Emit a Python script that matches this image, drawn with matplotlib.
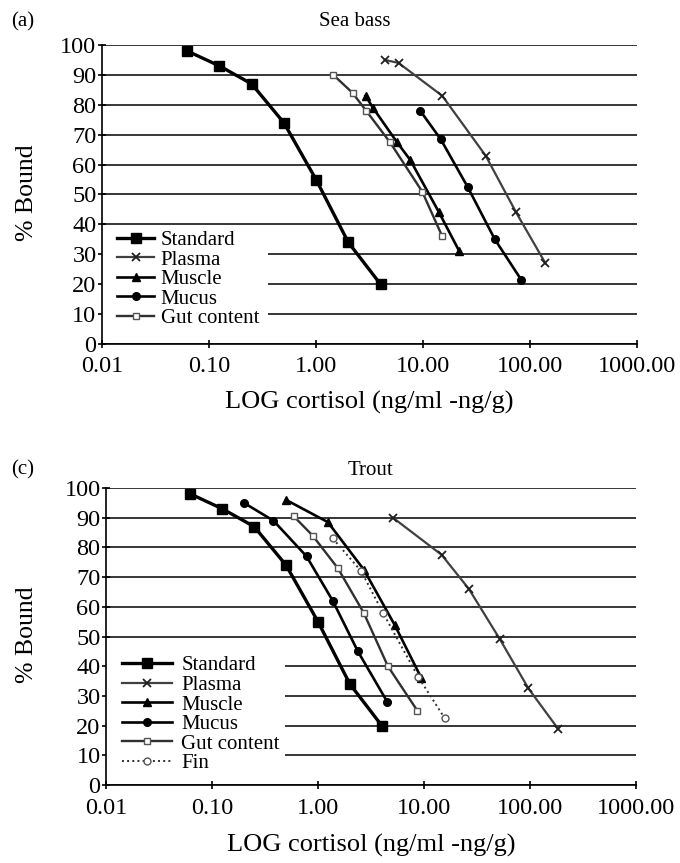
import numpy as np
import matplotlib.pyplot as plt
from matplotlib.patches import Rectangle
from matplotlib.ticker import FixedLocator, FuncFormatter

plt.rcParams['font.family'] = ['Liberation Serif', 'DejaVu Serif']

# Sea bass (a)
sb_std_x = [0.0625, 0.125, 0.25, 0.5, 1.0, 2.0, 4.0]
sb_std_y = [98, 93, 87, 74, 55, 34, 20]
sb_plasma_x = [4.4, 5.9, 15.1, 38.4, 74, 139]
sb_plasma_y = [95, 94, 83, 63, 44, 27]
sb_muscle_x = [2.9, 3.4, 5.7, 7.6, 14.1, 21.8]
sb_muscle_y = [83, 79, 67.5, 61.5, 44, 31]
sb_mucus_x = [9.4, 14.6, 26.1, 46.8, 82.5]
sb_mucus_y = [78, 68.5, 52.5, 35, 21.5]
sb_gut_x = [1.45, 2.19, 2.94, 4.9, 9.8, 15.1]
sb_gut_y = [90, 84, 78, 67.5, 51, 36]

# Trout (c)
tr_std_x = [0.0625, 0.125, 0.25, 0.5, 1.0, 2.0, 4.0]
tr_std_y = [98, 93, 87, 74, 55, 34, 20]
tr_plasma_x = [5.1, 14.7, 26.6, 52.3, 97, 184]
tr_plasma_y = [90, 77.5, 66, 49, 32.5, 19]
tr_muscle_x = [0.5, 1.24, 2.71, 5.28, 9.46]
tr_muscle_y = [96, 88.5, 72.5, 54, 36]
tr_mucus_x = [0.2, 0.38, 0.78, 1.38, 2.38, 4.51]
tr_mucus_y = [95, 89, 77, 62, 45, 28]
tr_gut_x = [0.59, 0.89, 1.54, 2.7, 4.57, 8.68]
tr_gut_y = [90.5, 84, 73, 58, 40, 25]
tr_fin_x = [1.38, 2.56, 4.1, 8.8, 15.7]
tr_fin_y = [83, 72, 58, 36.5, 22.5]

x_ticks = [0.01, 0.1, 1, 10, 100, 1000]
y_ticks = list(range(0, 101, 10))

styles = {
    'Standard': dict(color='black', lw=2.4, marker='s', ms=7.5, mfc='black', mec='black'),
    'Plasma': dict(color='#404040', lw=1.6, marker='x', ms=6, mew=1.3, mec='#202020'),
    'Muscle': dict(color='black', lw=1.9, marker='^', ms=6, mfc='black', mec='black'),
    'Mucus': dict(color='black', lw=1.9, marker='o', ms=5.5, mfc='black', mec='black'),
    'Gut content': dict(color='#303030', lw=1.7, marker='s', ms=5, mfc='white', mec='#555555', mew=1.0),
    'Fin': dict(color='#303030', lw=1.4, ls=':', marker='o', ms=5, mfc='white', mec='#555555', mew=1.0),
}


def style_axes(ax):
    ax.set_xscale('log')
    ax.set_xlim(0.01, 1000)
    ax.set_ylim(0, 100)
    ax.xaxis.set_major_locator(FixedLocator(x_ticks))
    ax.xaxis.set_minor_locator(FixedLocator([]))
    ax.xaxis.set_major_formatter(FuncFormatter(lambda v, p: '%.2f' % v))
    ax.set_yticks(y_ticks)
    ax.grid(axis='y', color='black', lw=1.1)
    ax.set_axisbelow(True)
    for s in ['top', 'right']:
        ax.spines[s].set_visible(False)
    ax.spines['left'].set_linewidth(1.2)
    ax.spines['bottom'].set_linewidth(1.2)
    ax.tick_params(direction='inout', length=6, width=1.2, labelsize=17.5)
    ax.tick_params(axis='y', pad=1)
    ax.tick_params(axis='x', pad=6)


def add_legend(ax, w, h, anchor, hlen, hpad):
    # white block hiding the gridlines behind the legend, as in the original
    ax.add_patch(Rectangle((0, 0.012), w, h, transform=ax.transAxes,
                           facecolor='white', edgecolor='none', zorder=1.5))
    ax.legend(loc='upper left', bbox_to_anchor=anchor, fontsize=15,
              frameon=False, labelspacing=0.0, handlelength=hlen,
              handletextpad=hpad, borderpad=0, borderaxespad=0)


fig = plt.figure(figsize=(6.8, 8.63), dpi=100)

ax1 = fig.add_axes([0.150, 1 - 344 / 863, 0.787, 299 / 863])
ax1.plot(sb_std_x, sb_std_y, label='Standard', **styles['Standard'])
ax1.plot(sb_plasma_x, sb_plasma_y, label='Plasma', **styles['Plasma'])
ax1.plot(sb_muscle_x, sb_muscle_y, label='Muscle', **styles['Muscle'])
ax1.plot(sb_mucus_x, sb_mucus_y, label='Mucus', **styles['Mucus'])
ax1.plot(sb_gut_x, sb_gut_y, label='Gut content', **styles['Gut content'])
style_axes(ax1)
add_legend(ax1, 0.31, 0.35, (0.028, 0.38), 1.8, 0.3)

ax2 = fig.add_axes([0.156, 1 - 785 / 863, 0.779, 297 / 863])
ax2.plot(tr_std_x, tr_std_y, label='Standard', **styles['Standard'])
ax2.plot(tr_plasma_x, tr_plasma_y, label='Plasma', **styles['Plasma'])
ax2.plot(tr_muscle_x, tr_muscle_y, label='Muscle', **styles['Muscle'])
ax2.plot(tr_mucus_x, tr_mucus_y, label='Mucus', **styles['Mucus'])
ax2.plot(tr_gut_x, tr_gut_y, label='Gut content', **styles['Gut content'])
ax2.plot(tr_fin_x, tr_fin_y, label='Fin', **styles['Fin'])
style_axes(ax2)
add_legend(ax2, 0.338, 0.45, (0.0296, 0.435), 2.4, 0.45)

fig.text(0.034, 0.975, '(a)', fontsize=15, ha='center', va='center')
fig.text(0.522, 0.975, 'Sea bass', fontsize=15, ha='center', va='center')
fig.text(0.034, 0.455, '(c)', fontsize=15, ha='center', va='center')
fig.text(0.545, 0.455, 'Trout', fontsize=15, ha='center', va='center')

fig.text(0.543, 1 - 402 / 863, 'LOG cortisol (ng/ml -ng/g)', fontsize=19, ha='center', va='center')
fig.text(0.546, 1 - 845 / 863, 'LOG cortisol (ng/ml -ng/g)', fontsize=19, ha='center', va='center')
fig.text(27 / 680, 1 - 193 / 863, '% Bound', fontsize=18.5, rotation=90, ha='center', va='center')
fig.text(27 / 680, 1 - 635 / 863, '% Bound', fontsize=18.5, rotation=90, ha='center', va='center')

fig.savefig('out.png', dpi=100, facecolor='white')
